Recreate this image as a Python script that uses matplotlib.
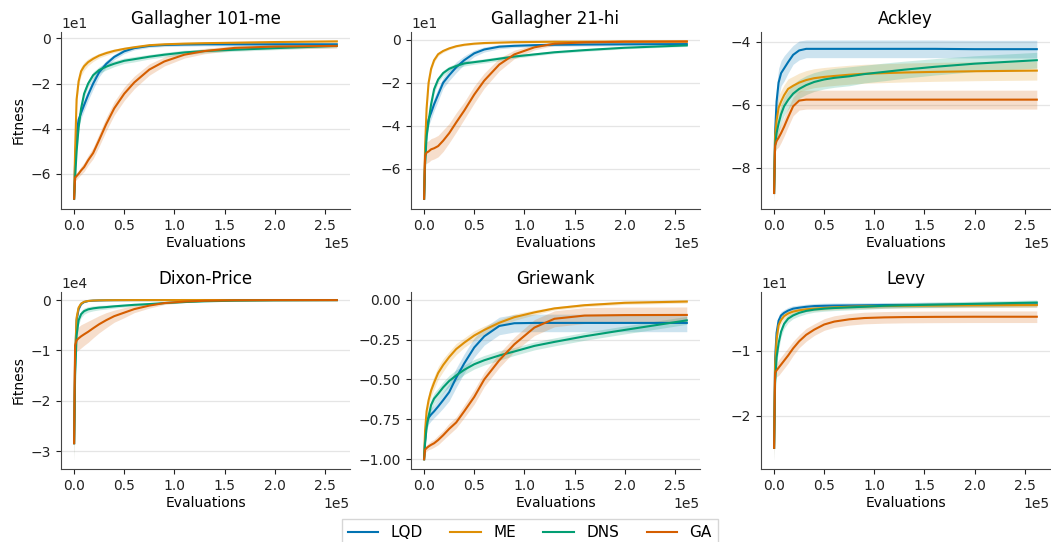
import numpy as np
import matplotlib.pyplot as plt
from matplotlib.ticker import MaxNLocator

# evaluation grid the curves were read on
evals = [0, 1000, 2500, 4500, 7000, 10000, 14000, 19000, 25000, 32000,
         40000, 50000, 60000, 75000, 90000, 110000, 130000, 160000, 200000, 262000]

methods = ['LQD', 'ME', 'DNS', 'GA']
colors = ['#0173b2', '#de8f05', '#029e73', '#d55e00']
titles = ['Gallagher 101-me', 'Gallagher 21-hi', 'Ackley', 'Dixon-Price', 'Griewank', 'Levy']

# Gallagher 101-me
gal101_lqd = [-71, -55, -42, -36, -33, -29.5, -25, -20, -15, -11.3, -8.2, -5.7, -4.3, -3.3, -2.9, -2.7, -2.6, -2.6, -2.6, -2.6]
gal101_me = [-71, -50, -27, -19, -14.5, -12.3, -10.5, -9, -7.6, -6.5, -5.5, -4.6, -3.9, -3.0, -2.6, -2.3, -2.1, -1.9, -1.6, -1.3]
gal101_dns = [-71, -62, -50, -39.5, -31, -24.5, -20, -16.3, -14, -12.5, -11.2, -9.9, -9.2, -8.1, -7.2, -6.2, -5.6, -5.0, -4.3, -3.3]
gal101_ga = [-71, -61.7, -61, -60, -58.5, -57, -54, -50.8, -45, -38, -31, -24.5, -19.5, -13.8, -10.2, -7.2, -5.6, -4.2, -3.6, -3.3]
gal101_lqd_sd = [1, 2, 2.5, 2.5, 2.5, 2.5, 2.5, 2.5, 2, 1.5, 1.2, 1, 0.8, 0.7, 0.7, 0.7, 0.7, 0.7, 0.7, 0.7]
gal101_me_sd = [1, 1.5, 2, 2, 2, 1.8, 1.5, 1.2, 1, 1, 0.8, 0.7, 0.6, 0.6, 0.6, 0.6, 0.6, 0.6, 0.6, 0.6]
gal101_dns_sd = [1, 2, 2, 2, 2, 1.8, 1.5, 1.5, 1.5, 1.5, 1.3, 1.2, 1.2, 1, 1, 1, 0.8, 0.7, 0.7, 0.7]
gal101_ga_sd = [1, 1.5, 1.5, 1.5, 1.8, 2, 2.2, 2.5, 2.8, 3, 3, 3, 2.8, 2.5, 2, 1.5, 1.2, 1, 1, 1]

# Gallagher 21-hi
gal21_lqd = [-74, -55, -42, -37, -34, -30, -25.5, -20, -16.5, -12.8, -9.5, -6.3, -4.5, -3.2, -2.8, -2.5, -2.3, -2.2, -2.1, -2.0]
gal21_me = [-74, -50, -32, -20, -13.5, -9.5, -6.7, -5.2, -4.0, -3.0, -2.3, -1.8, -1.5, -1.3, -1.1, -1.0, -0.9, -0.9, -0.8, -0.8]
gal21_dns = [-74, -58, -45, -38, -30, -23, -18.5, -15.5, -13.5, -12.2, -11, -10.4, -9.8, -8.8, -7.8, -6.8, -5.8, -4.8, -3.7, -2.6]
gal21_ga = [-74, -54, -52.5, -52, -51, -50.5, -49.5, -47, -43.5, -38.5, -33, -25.5, -19, -11.5, -6.8, -3.5, -1.8, -1.2, -0.9, -0.8]
gal21_lqd_sd = [1, 2.5, 3, 3, 3, 3, 3, 2.5, 2.5, 2.5, 2, 1.5, 1.2, 1, 0.8, 0.7, 0.7, 0.7, 0.7, 0.7]
gal21_me_sd = [1, 2, 2, 1.5, 1.2, 1, 0.8, 0.7, 0.6, 0.5, 0.5, 0.5, 0.5, 0.5, 0.5, 0.5, 0.5, 0.5, 0.5, 0.5]
gal21_dns_sd = [1, 2, 2.5, 2.5, 2.5, 2, 1.5, 1.3, 1.2, 1.2, 1.2, 1, 1, 1, 0.8, 0.7, 0.6, 0.6, 0.5, 0.5]
gal21_ga_sd = [1, 4, 5, 5, 5, 5, 5, 5, 4.5, 4.5, 4, 4, 3.5, 3, 2, 1.2, 0.8, 0.7, 0.7, 0.7]

# Ackley
ack_lqd = [-8.8, -6.9, -5.9, -5.3, -5.0, -4.85, -4.65, -4.42, -4.28, -4.23, -4.23, -4.23, -4.23, -4.23, -4.23, -4.23, -4.23, -4.23, -4.24, -4.24]
ack_me = [-8.8, -7.0, -6.5, -6.1, -5.9, -5.7, -5.5, -5.4, -5.3, -5.22, -5.16, -5.12, -5.09, -5.05, -5.02, -5.0, -4.98, -4.96, -4.94, -4.92]
ack_dns = [-8.8, -7.3, -6.9, -6.6, -6.3, -6.05, -5.85, -5.65, -5.5, -5.38, -5.28, -5.2, -5.15, -5.1, -5.03, -4.96, -4.89, -4.8, -4.7, -4.59]
ack_ga = [-8.8, -7.3, -7.15, -7.05, -6.9, -6.7, -6.4, -6.05, -5.87, -5.84, -5.84, -5.84, -5.84, -5.84, -5.84, -5.84, -5.84, -5.84, -5.84, -5.84]
ack_lqd_sd = [0.25, 0.5, 0.5, 0.45, 0.4, 0.4, 0.35, 0.3, 0.3, 0.28, 0.28, 0.28, 0.28, 0.28, 0.28, 0.28, 0.28, 0.28, 0.28, 0.28]
ack_me_sd = [0.25, 0.4, 0.4, 0.4, 0.35, 0.33, 0.32, 0.3, 0.3, 0.3, 0.3, 0.3, 0.3, 0.3, 0.3, 0.3, 0.3, 0.3, 0.3, 0.3]
ack_dns_sd = [0.25, 0.3, 0.3, 0.3, 0.3, 0.3, 0.3, 0.3, 0.3, 0.3, 0.3, 0.3, 0.3, 0.3, 0.28, 0.28, 0.27, 0.26, 0.25, 0.25]
ack_ga_sd = [0.25, 0.2, 0.25, 0.3, 0.3, 0.3, 0.3, 0.3, 0.3, 0.3, 0.3, 0.3, 0.3, 0.3, 0.3, 0.3, 0.3, 0.3, 0.3, 0.3]

# Dixon-Price
dix_lqd = [-28400, -12000, -4000, -1800, -800, -400, -200, -120, -80, -50, -30, -20, -10, -10, -5, 0, 0, 0, 0, 0]
dix_me = [-28400, -11000, -3500, -1500, -700, -350, -180, -100, -60, -40, -25, -15, -10, -5, -5, 0, 0, 0, 0, 0]
dix_dns = [-28400, -15000, -7000, -4000, -2800, -2200, -1850, -1650, -1500, -1400, -1250, -1100, -950, -800, -600, -400, -250, -130, -60, -20]
dix_ga = [-28400, -9000, -8000, -7600, -7200, -6800, -6300, -5600, -4800, -4000, -3200, -2500, -1800, -1100, -600, -300, -150, -60, -20, -10]
dix_lqd_sd = [3500, 1500, 800, 400, 200, 100, 80, 60, 50, 40, 30, 20, 20, 20, 20, 20, 20, 20, 20, 20]
dix_me_sd = [3500, 1500, 800, 400, 200, 100, 80, 60, 50, 40, 30, 20, 20, 20, 20, 20, 20, 20, 20, 20]
dix_dns_sd = [3500, 1500, 1000, 800, 700, 600, 550, 500, 450, 400, 350, 300, 250, 200, 150, 100, 80, 50, 30, 20]
dix_ga_sd = [3500, 2000, 2200, 2300, 2300, 2200, 2100, 1900, 1700, 1500, 1200, 1000, 700, 500, 300, 200, 100, 50, 30, 20]

# Griewank
grie_lqd = [-1.0, -0.88, -0.77, -0.74, -0.72, -0.70, -0.67, -0.63, -0.58, -0.49, -0.40, -0.30, -0.23, -0.165, -0.148, -0.146, -0.146, -0.146, -0.146, -0.146]
grie_me = [-1.0, -0.82, -0.7, -0.63, -0.57, -0.52, -0.46, -0.41, -0.36, -0.31, -0.27, -0.225, -0.19, -0.145, -0.11, -0.08, -0.055, -0.035, -0.02, -0.012]
grie_dns = [-1.0, -0.9, -0.8, -0.73, -0.66, -0.62, -0.59, -0.55, -0.51, -0.475, -0.44, -0.405, -0.38, -0.35, -0.325, -0.29, -0.265, -0.23, -0.19, -0.13]
grie_ga = [-1.0, -0.94, -0.93, -0.92, -0.91, -0.9, -0.88, -0.85, -0.81, -0.77, -0.70, -0.61, -0.5, -0.38, -0.28, -0.175, -0.12, -0.1, -0.097, -0.096]
grie_lqd_sd = [0.01, 0.03, 0.04, 0.04, 0.04, 0.04, 0.045, 0.05, 0.055, 0.06, 0.06, 0.06, 0.055, 0.055, 0.055, 0.055, 0.055, 0.055, 0.055, 0.055]
grie_me_sd = [0.01, 0.03, 0.04, 0.04, 0.04, 0.04, 0.04, 0.04, 0.035, 0.035, 0.03, 0.03, 0.025, 0.02, 0.02, 0.015, 0.01, 0.01, 0.01, 0.01]
grie_dns_sd = [0.01, 0.03, 0.035, 0.035, 0.035, 0.035, 0.035, 0.035, 0.035, 0.035, 0.03, 0.03, 0.03, 0.03, 0.025, 0.025, 0.025, 0.025, 0.025, 0.025]
grie_ga_sd = [0.01, 0.02, 0.02, 0.02, 0.025, 0.025, 0.03, 0.03, 0.035, 0.035, 0.04, 0.045, 0.045, 0.045, 0.045, 0.05, 0.05, 0.05, 0.05, 0.05]

# Levy
levy_lqd = [-25, -11.3, -7.2, -5.3, -4.5, -4.1, -3.75, -3.45, -3.3, -3.16, -3.05, -3.0, -2.97, -2.95, -2.93, -2.9, -2.88, -2.86, -2.84, -2.8]
levy_me = [-25, -12.3, -8.2, -6.0, -5.2, -4.6, -4.2, -3.9, -3.7, -3.55, -3.45, -3.35, -3.25, -3.15, -3.1, -3.05, -3.0, -2.97, -2.93, -2.9]
levy_dns = [-25, -15, -11, -8.8, -7.0, -5.8, -5.0, -4.5, -4.1, -3.8, -3.6, -3.45, -3.35, -3.25, -3.15, -3.0, -2.92, -2.83, -2.7, -2.5]
levy_ga = [-25, -13.4, -13.0, -12.6, -12.1, -11.5, -10.7, -9.6, -8.5, -7.5, -6.7, -5.9, -5.45, -5.1, -4.9, -4.8, -4.75, -4.72, -4.7, -4.7]
levy_lqd_sd = [2, 1.5, 1, 0.8, 0.6, 0.5, 0.5, 0.45, 0.4, 0.4, 0.4, 0.4, 0.4, 0.4, 0.4, 0.4, 0.4, 0.4, 0.4, 0.4]
levy_me_sd = [2, 1.5, 1, 0.7, 0.6, 0.5, 0.4, 0.4, 0.35, 0.35, 0.35, 0.35, 0.35, 0.35, 0.35, 0.35, 0.35, 0.35, 0.35, 0.35]
levy_dns_sd = [2, 1.5, 1.2, 1, 0.8, 0.7, 0.6, 0.5, 0.5, 0.45, 0.4, 0.4, 0.4, 0.4, 0.4, 0.4, 0.4, 0.4, 0.4, 0.4]
levy_ga_sd = [2, 1, 1, 1.2, 1.2, 1.2, 1.2, 1.1, 1.0, 1.0, 0.9, 0.9, 0.9, 0.9, 0.9, 0.9, 0.9, 0.9, 0.9, 0.9]

means = [
    [gal101_lqd, gal101_me, gal101_dns, gal101_ga],
    [gal21_lqd, gal21_me, gal21_dns, gal21_ga],
    [ack_lqd, ack_me, ack_dns, ack_ga],
    [dix_lqd, dix_me, dix_dns, dix_ga],
    [grie_lqd, grie_me, grie_dns, grie_ga],
    [levy_lqd, levy_me, levy_dns, levy_ga],
]
stds = [
    [gal101_lqd_sd, gal101_me_sd, gal101_dns_sd, gal101_ga_sd],
    [gal21_lqd_sd, gal21_me_sd, gal21_dns_sd, gal21_ga_sd],
    [ack_lqd_sd, ack_me_sd, ack_dns_sd, ack_ga_sd],
    [dix_lqd_sd, dix_me_sd, dix_dns_sd, dix_ga_sd],
    [grie_lqd_sd, grie_me_sd, grie_dns_sd, grie_ga_sd],
    [levy_lqd_sd, levy_me_sd, levy_dns_sd, levy_ga_sd],
]

fig, axes = plt.subplots(2, 3, figsize=(10.51, 5.42), dpi=100)
fig.subplots_adjust(left=0.058, right=0.999, bottom=0.135, top=0.941, wspace=0.211, hspace=0.469)

x = np.array(evals)
for k, ax in enumerate(axes.flat):
    for m in range(4):
        mu = np.array(means[k][m], dtype=float)
        sd = np.array(stds[k][m], dtype=float)
        ax.fill_between(x, mu - sd, mu + sd, color=colors[m], alpha=0.2, lw=0)
        ax.plot(x, mu, color=colors[m], lw=1.5, label=methods[m])
    ax.set_title(titles[k], fontsize=12)
    ax.set_xlabel('Evaluations', fontsize=10, labelpad=2.5)
    if k % 3 == 0:
        ax.set_ylabel('Fitness', fontsize=10)
    ax.yaxis.set_major_locator(MaxNLocator(nbins=5, steps=[1, 2, 2.5, 5, 10]))
    ax.ticklabel_format(style='sci', scilimits=(0, 0), axis='both')
    ax.grid(axis='y', color='#e5e5e5', lw=0.9)
    ax.set_axisbelow(True)
    ax.spines['top'].set_visible(False)
    ax.spines['right'].set_visible(False)
    for s in ['left', 'bottom']:
        ax.spines[s].set_color('#444444')
    ax.tick_params(colors='#222222', labelsize=10)

handles, labels = axes[0, 0].get_legend_handles_labels()
fig.legend(handles, labels, loc='upper center', bbox_to_anchor=(0.504, 23 / 542),
           borderaxespad=0, ncol=4, fontsize=11, columnspacing=1.8,
           frameon=True, edgecolor='#cccccc', fancybox=False)

plt.savefig('out.png', dpi=100)
